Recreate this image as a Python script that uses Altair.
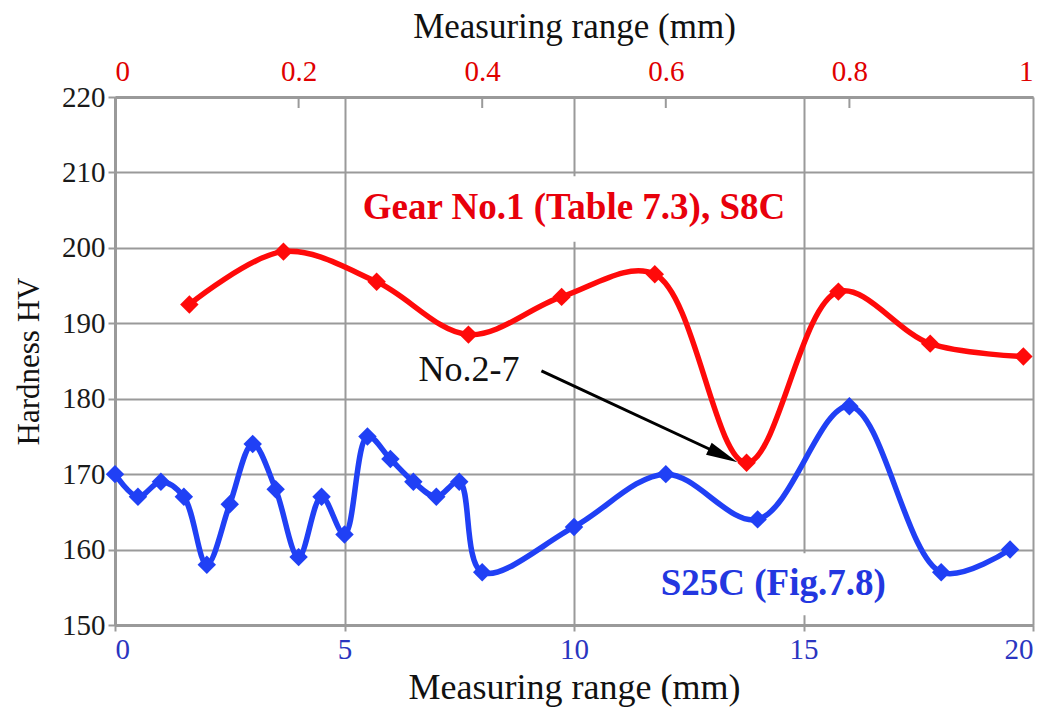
import altair as alt
import pandas as pd

# ---- data ----
blue_x = [0, 0.5, 1, 1.5, 2, 2.5, 3, 3.5, 4, 4.5, 5, 5.5, 6, 6.5, 7, 7.5, 8, 10, 12, 14, 16, 18, 19.5]
blue_y = [170, 167, 169, 167, 158, 166, 174, 168, 159, 167, 162, 175, 172, 169, 167, 169, 157, 163, 170, 164, 179, 157, 160]

red_x = [0.081, 0.1835, 0.285, 0.385, 0.4865, 0.588, 0.688, 0.788, 0.888, 0.9895]
red_y = [192.5, 199.5, 195.5, 188.5, 193.5, 196.5, 171.5, 194.2, 187.3, 185.6]

y_ticks = [150, 160, 170, 180, 190, 200, 210, 220]
bottom_ticks = [0, 5, 10, 15, 20]
top_ticks = [0, 0.2, 0.4, 0.6, 0.8, 1]
top_inner_ticks = [0.2, 0.4, 0.6, 0.8]

label_text = ["Gear No.1 (Table 7.3), S8C", "S25C (Fig.7.8)"]
label_x = [10.0, 14.34]
label_y = [205.3, 155.5]
label_color = ["#e8000b", "#2337e0"]
box_x0 = [5.25, 11.7]
box_x1 = [14.9, 17.0]
box_y0 = [200.8, 151.3]
box_y1 = [209.5, 159.5]

note_text = ["No.2-7"]
note_x = [7.71]
note_y = [183.8]
arrow_x = [9.29, 13.25]
arrow_y = [183.7, 172.47]
head_x = [13.25]
head_y = [172.47]

FONT = "Liberation Serif"
BLUE = "#2040f5"
RED = "#ff0a0a"
GRID = "#9a9a9a"

blue_df = pd.DataFrame({"x": blue_x, "y": blue_y})
red_df = pd.DataFrame({"xr": red_x, "y": red_y})
lab_df = pd.DataFrame({"x": label_x, "y": label_y, "t": label_text, "c": label_color,
                       "x0": box_x0, "x1": box_x1, "y0": box_y0, "y1": box_y1})
note_df = pd.DataFrame({"x": note_x, "y": note_y, "t": note_text})
arrow_df = pd.DataFrame({"x": arrow_x, "y": arrow_y})
head_df = pd.DataFrame({"x": head_x, "y": head_y})
inner_df = pd.DataFrame({"xr": top_inner_ticks})

xscale = alt.Scale(domain=[0, 20], nice=False, zero=False)
xrscale = alt.Scale(domain=[0, 1], nice=False, zero=False)
yscale = alt.Scale(domain=[150, 220], nice=False, zero=False)

x_axis = alt.Axis(orient="bottom", values=bottom_ticks, title="Measuring range (mm)",
                  labelFont=FONT, labelFontSize=29, labelColor="#2a35c0",
                  titleFont=FONT, titleFontSize=36, titleFontWeight="normal", titleColor="#111111",
                  grid=True, gridColor=GRID, gridWidth=2,
                  ticks=True, tickSize=6, tickColor=GRID, tickWidth=2,
                  domainColor=GRID, domainWidth=3, labelPadding=4, titlePadding=6)
y_axis = alt.Axis(values=y_ticks, title="Hardness HV",
                  labelFont=FONT, labelFontSize=29, labelColor="#1a1a1a",
                  titleFont=FONT, titleFontSize=31, titleFontWeight="normal", titleColor="#111111",
                  grid=True, gridColor=GRID, gridWidth=2,
                  ticks=True, tickSize=7, tickColor=GRID, tickWidth=2,
                  domainColor=GRID, domainWidth=3, labelPadding=3, titlePadding=16)
xr_axis = alt.Axis(orient="top", values=top_ticks, format="~g", title="Measuring range (mm)",
                   labelFont=FONT, labelFontSize=29, labelColor="#e00000",
                   titleFont=FONT, titleFontSize=35, titleFontWeight="normal", titleColor="#111111",
                   grid=False, ticks=False, domainColor=GRID, domainWidth=3,
                   labelPadding=11, titlePadding=13)


def XB(f):
    return alt.X(f, scale=xscale, axis=x_axis)


def XR(f):
    return alt.X(f, scale=xrscale, axis=xr_axis)


def YY(f):
    return alt.Y(f, scale=yscale, axis=y_axis)


boxes = alt.Chart(lab_df).mark_rect(fill="white").encode(
    x=XB("x0:Q"), x2="x1:Q", y=YY("y0:Q"), y2="y1:Q")

blue_line = alt.Chart(blue_df).mark_line(color=BLUE, strokeWidth=5.5, interpolate="catmull-rom").encode(
    x=XB("x:Q"), y=YY("y:Q"))
blue_pts = alt.Chart(blue_df).mark_point(shape="diamond", filled=True, color=BLUE, size=340, opacity=1).encode(
    x=XB("x:Q"), y=YY("y:Q"))

labels = alt.Chart(lab_df).mark_text(font=FONT, fontSize=37, fontWeight="bold", baseline="middle").encode(
    x=XB("x:Q"), y=YY("y:Q"), text="t:N", color=alt.Color("c:N", scale=None))
note = alt.Chart(note_df).mark_text(font=FONT, fontSize=36, color="#111111", baseline="middle").encode(
    x=XB("x:Q"), y=YY("y:Q"), text="t:N")
arrow = alt.Chart(arrow_df).mark_line(color="black", strokeWidth=3).encode(
    x=XB("x:Q"), y=YY("y:Q"))
head = alt.Chart(head_df).mark_point(shape="M1,0L-1,-0.42L-1,0.42Z", filled=True, color="black",
                                     size=1000, angle=25, opacity=1).encode(
    x=XB("x:Q"), y=YY("y:Q"))

blue_group = alt.layer(boxes, blue_line, blue_pts, labels, note, arrow, head)

red_line = alt.Chart(red_df).mark_line(color=RED, strokeWidth=5.5, interpolate="catmull-rom").encode(
    x=XR("xr:Q"), y=YY("y:Q"))
red_pts = alt.Chart(red_df).mark_point(shape="diamond", filled=True, color=RED, size=340, opacity=1).encode(
    x=XR("xr:Q"), y=YY("y:Q"))
inner = alt.Chart(inner_df).mark_rule(color=GRID, strokeWidth=2).encode(
    x=XR("xr:Q"), y=alt.value(0), y2=alt.value(11))

red_group = alt.layer(inner, red_line, red_pts)

chart = alt.layer(blue_group, red_group).resolve_scale(x="independent").resolve_axis(x="independent").properties(
    width=918, height=528,
    autosize=alt.AutoSizeParams(type="none"),
    padding={"left": 107, "top": 89, "right": 3, "bottom": 83},
).configure_view(stroke=GRID, strokeWidth=2).configure(background="white")

chart.save("out.html", embed_options={"renderer": "svg", "actions": False})
